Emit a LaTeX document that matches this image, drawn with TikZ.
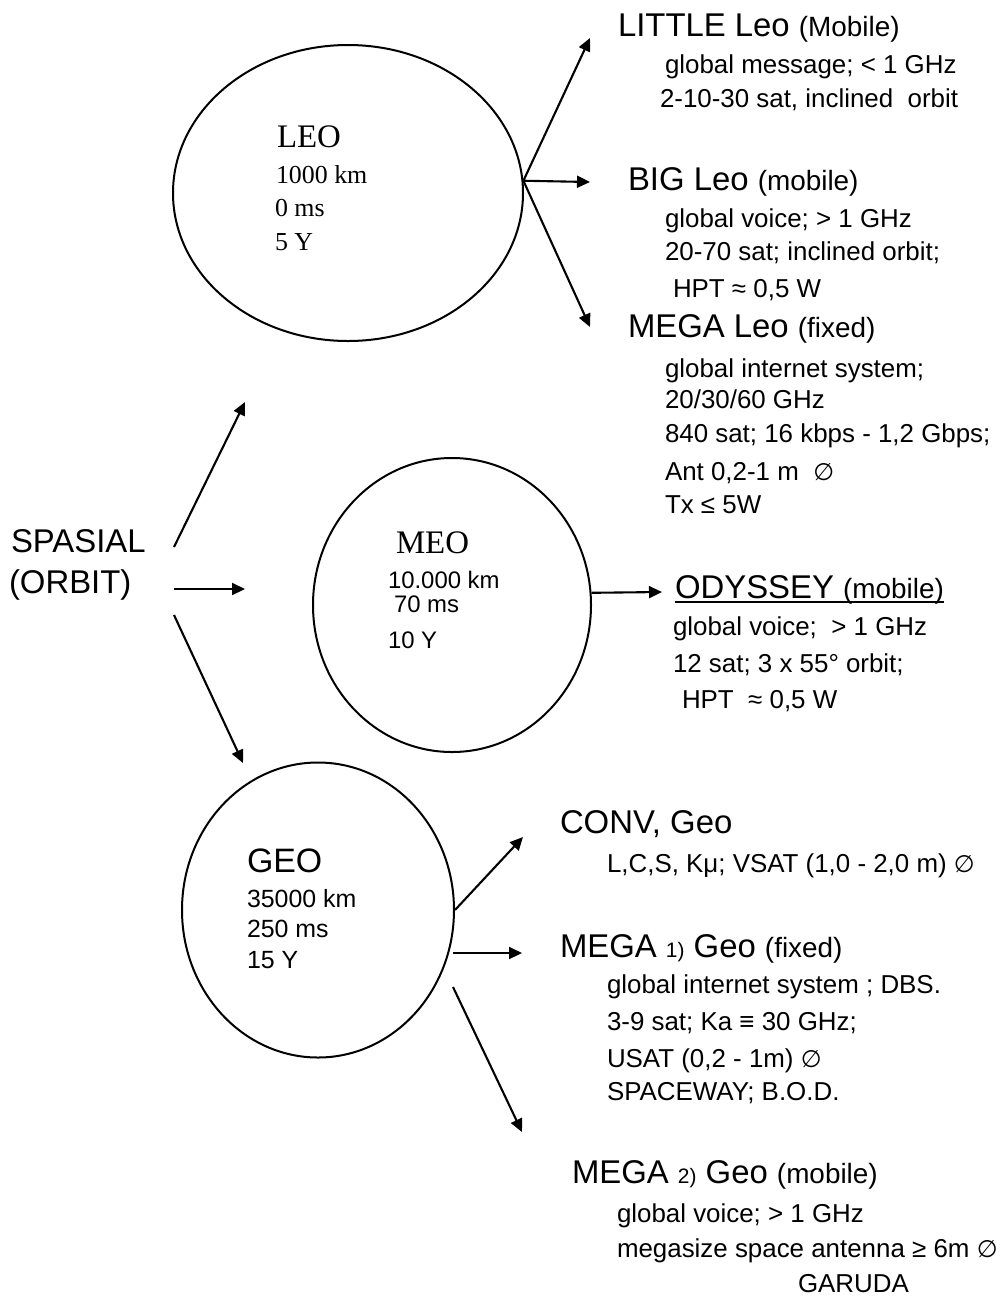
\documentclass[tikz,border=0pt]{standalone}
\usepackage{fontspec}
\setmainfont{Liberation Sans}
\newfontfamily\serifrm{Liberation Serif}
\newfontfamily\symfont{DejaVu Sans}
\usetikzlibrary{shapes.geometric,arrows.meta}
\newcommand{\dia}{{\symfont\fontsize{24}{28}\selectfont ∅}}
\newcommand{\sm}[1]{{\fontsize{28}{30}\selectfont #1}}
\newcommand{\tn}[1]{{\fontsize{21}{24}\selectfont #1}}
\begin{document}
\begin{tikzpicture}[x=1bp,y=-1bp,
  ell/.style={draw,ellipse,line width=2bp,inner sep=0pt},
  txt/.style={anchor=base west,inner sep=0pt,outer sep=0pt},
  head/.style={txt,font=\fontsize{33}{36}\selectfont},
  det/.style={txt,font=\fontsize{26}{30}\selectfont},
  inner/.style={txt,font=\fontsize{25}{28}\selectfont},
  sinner/.style={txt,font=\serifrm\fontsize{26}{28}\selectfont},
  stitle/.style={txt,font=\serifrm\fontsize{33}{36}\selectfont},
  arr/.style={line width=2.1bp,-{Triangle[length=13bp,width=12bp]}}]
\useasboundingbox (0,0) rectangle (1007,1296);
\fill[white] (0,0) rectangle (1007,1296);

% ellipses
\node[ell,minimum width=350bp,minimum height=296bp] (leo) at (348,193) {};
\node[ell,minimum width=278bp,minimum height=294bp] (meo) at (452,605) {};
\node[ell,minimum width=272bp,minimum height=295bp] (geo) at (318,910) {};

% LEO text
\node[stitle] (leoT) at (277,147) {LEO};
\node[sinner] (leo1) at (276,183) {1000 km};
\node[sinner] (leo2) at (275,216) {0 ms};
\node[sinner] (leo3) at (275,250) {5 Y};

% MEO text
\node[stitle] (meoT) at (396,553) {MEO};
\node[txt,font=\fontsize{24}{28}\selectfont] (meo1) at (388,588) {10.000 km};
\node[txt,font=\fontsize{24}{28}\selectfont] (meo2) at (394,612) {70 ms};
\node[txt,font=\fontsize{24}{28}\selectfont] (meo3) at (388,648) {10 Y};

% GEO text
\node[txt,font=\fontsize{34}{36}\selectfont] (geoT) at (247,872) {GEO};
\node[inner] (geo1) at (247,907) {35000 km};
\node[inner] (geo2) at (247,937) {250 ms};
\node[inner] (geo3) at (247,968) {15 Y};

% SPASIAL
\node[head] (sp1) at (11,552) {SPASIAL};
\node[head] (sp2) at (9,593) {(ORBIT)};

% LITTLE Leo
\node[head] (la) at (618,36) {LITTLE Leo \sm{(Mobile)}};
\node[det] (lb) at (665,73) {global message; < 1 GHz};
\node[det] (lc) at (660,107) {2-10-30 sat, inclined\ \ orbit};

% BIG Leo
\node[head] (ba) at (628,190) {BIG Leo \sm{(mobile)}};
\node[det] (bb) at (665,227) {global voice; > 1 GHz};
\node[det] (bc) at (665,260) {20-70 sat; inclined orbit;};
\node[det] (bd) at (673,297) {HPT ≈ 0,5 W};

% MEGA Leo
\node[head] (ma) at (628,337) {MEGA Leo \sm{(fixed)}};
\node[det] (mb) at (665,377) {global internet system;};
\node[det] (mc) at (665,408) {20/30/60 GHz};
\node[det] (md) at (665,442) {840 sat; 16 kbps - 1,2 Gbps;};
\node[det] (me) at (665,480) {Ant 0,2-1 m\ \ \dia};
\node[det] (mf) at (665,513) {Tx ≤ 5W};

% ODYSSEY
\node[head] (oa) at (675,598) {ODYSSEY \sm{(mobile)}};
\draw[line width=1.4bp] ([yshift=-4bp]oa.base west) -- ([yshift=-4bp]oa.base east);
\node[det] (ob) at (673,635) {global voice;\ \ > 1 GHz};
\node[det] (oc) at (673,672) {12 sat; 3 x 55° orbit;};
\node[det] (od) at (682,708) {HPT\ \ ≈ 0,5 W};

% CONV Geo
\node[head] (ca) at (560,833) {CONV, Geo};
\node[det] (cb) at (607,872) {L,C,S, Kμ; VSAT (1,0 - 2,0 m) \dia};

% MEGA 1) Geo
\node[head] (ga) at (560,957) {MEGA \tn{1)} Geo \sm{(fixed)}};
\node[det] (gb) at (607,993) {global internet system ; DBS.};
\node[det] (gc) at (607,1030) {3-9 sat; Ka ≡ 30 GHz;};
\node[det] (gd) at (607,1067) {USAT (0,2 - 1m) \dia};
\node[det] (ge) at (607,1100) {SPACEWAY; B.O.D.};

% MEGA 2) Geo
\node[head] (ha) at (572,1183) {MEGA \tn{2)} Geo \sm{(mobile)}};
\node[det] (hb) at (617,1222) {global voice; > 1 GHz};
\node[det] (hc) at (617,1257) {megasize space antenna ≥ 6m \dia};
\node[det] (hd) at (798,1292) {GARUDA};

% coordinates for arrows
\coordinate (t1) at (590,38);
\coordinate (t2) at (590,182);
\coordinate (t3) at (590,327);
\coordinate (s1) at (174,547);
\coordinate (s2) at (174,589);
\coordinate (s3) at (174,615);
\coordinate (u1) at (245,402);
\coordinate (u2) at (245,589);
\coordinate (u3) at (243,763);
\coordinate (o1) at (662,592);
\coordinate (g1) at (523,837);
\coordinate (g2s) at (453,953);
\coordinate (g2) at (522,953);
\coordinate (g3s) at (453,987);
\coordinate (g3) at (522,1132);

% arrows
\draw[arr] (leo.4) -- (t1);
\draw[arr] (leo.4) -- (t2);
\draw[arr] (leo.4) -- (t3);
\draw[arr] (s1) -- (u1);
\draw[arr] (s2) -- (u2);
\draw[arr] (s3) -- (u3);
\draw[arr] (meo.5) -- (o1);
\draw[arr] (geo.0) -- (g1);
\draw[arr] (g2s) -- (g2);
\draw[arr] (g3s) -- (g3);
\end{tikzpicture}
\end{document}
